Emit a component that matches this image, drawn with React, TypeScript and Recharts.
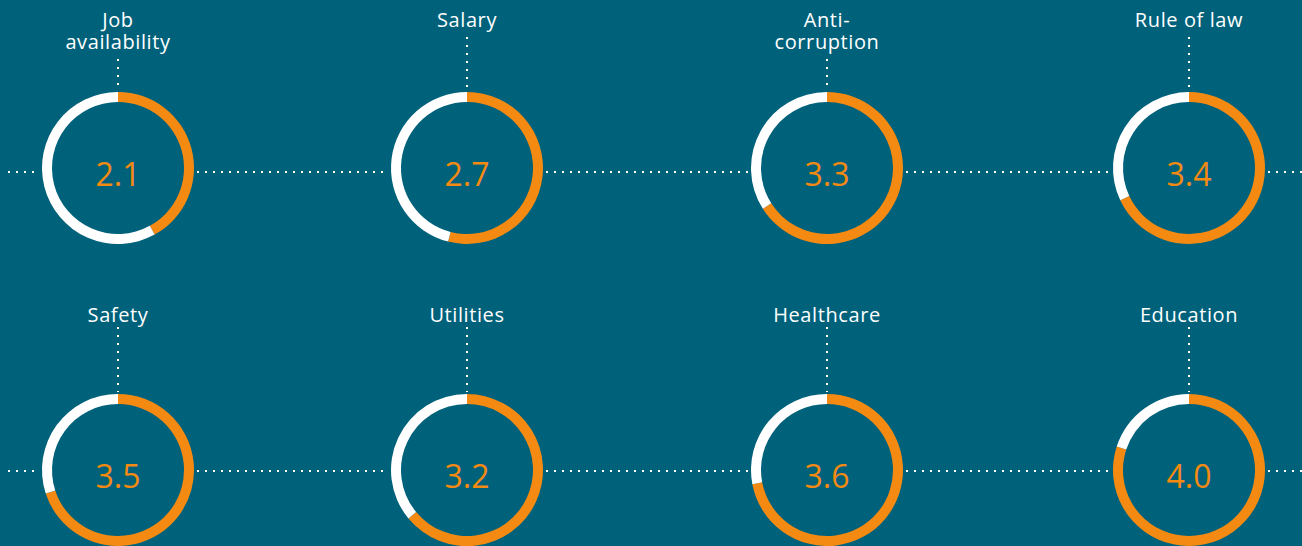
import React from 'react';
import { PieChart, Pie, Cell, Customized } from 'recharts';

// ---- Data ----
const categories = ['Job availability', 'Salary', 'Anti-corruption', 'Rule of law', 'Safety', 'Utilities', 'Healthcare', 'Education'];
const labelLines = [['Job', 'availability'], ['Salary'], ['Anti-', 'corruption'], ['Rule of law'], ['Safety'], ['Utilities'], ['Healthcare'], ['Education']];
const scores = [2.1, 2.7, 3.3, 3.4, 3.5, 3.2, 3.6, 4.0];
const maxScore = 5;

// ---- Layout / style ----
const W = 1302;
const H = 546;
const BG = '#00617B';
const ORANGE = '#F58A12';
const WHITE = '#FFFFFF';
const colX = [118, 467, 827, 1189];
const rowY = [168, 470];
const lineY = [172, 471];
const labelBase = [27, 322];
const OUTER = 76;
const INNER = 66;
const FONT = '"Open Sans", "Noto Sans", sans-serif';

const positions = scores.map((_, i) => ({ cx: colX[i % 4], cy: rowY[Math.floor(i / 4)], row: Math.floor(i / 4) }));

const Overlay = () => {
  const els: React.ReactNode[] = [];
  // horizontal dotted lines
  [0, 1].forEach((r) => {
    const y = lineY[r];
    const xs = [8, ...colX.flatMap((x) => [x - OUTER - 2, x + OUTER + 3]), W];
    for (let k = 0; k < xs.length; k += 2) {
      els.push(
        <line key={`h${r}-${k}`} x1={xs[k]} y1={y} x2={xs[k + 1]} y2={y} stroke={WHITE} strokeWidth={2} strokeDasharray="2 6" />
      );
    }
  });
  // vertical lines and labels
  positions.forEach((p, i) => {
    const lines = labelLines[i];
    const base = labelBase[p.row];
    const lastBase = base + (lines.length - 1) * 22;
    const topY = lastBase + (p.row === 0 ? 10 : 5);
    els.push(
      <line key={`v${i}`} x1={p.cx} y1={topY} x2={p.cx} y2={p.cy - OUTER - 2} stroke={WHITE} strokeWidth={2} strokeDasharray="2 6" />
    );
    els.push(
      <text key={`l${i}`} x={p.cx} textAnchor="middle" fill={WHITE} fontFamily={FONT} fontSize={20} letterSpacing={0.6}>
        {lines.map((ln, j) => (
          <tspan key={j} x={p.cx} y={base + j * 22}>{ln}</tspan>
        ))}
      </text>
    );
    els.push(
      <text key={`s${i}`} x={p.cx} y={p.cy + 18} textAnchor="middle" fill={ORANGE} fontFamily={FONT} fontSize={32}>
        {scores[i].toFixed(1)}
      </text>
    );
  });
  return <g>{els}</g>;
};

export default function App() {
  return (
    <div style={{ position: 'fixed', left: 0, top: 0, width: W, height: H, background: BG }}>
      <PieChart width={W} height={H} margin={{ top: 0, right: 0, bottom: 0, left: 0 }}>
        <Customized component={Overlay} />
        {scores.map((s, i) => (
          <Pie
            key={categories[i]}
            data={[{ name: categories[i], value: s }, { name: 'rest', value: maxScore - s }]}
            dataKey="value"
            cx={positions[i].cx}
            cy={positions[i].cy}
            innerRadius={INNER}
            outerRadius={OUTER}
            startAngle={90}
            endAngle={-270}
            stroke="none"
            isAnimationActive={false}
          >
            <Cell fill={ORANGE} />
            <Cell fill={WHITE} />
          </Pie>
        ))}
      </PieChart>
    </div>
  );
}
